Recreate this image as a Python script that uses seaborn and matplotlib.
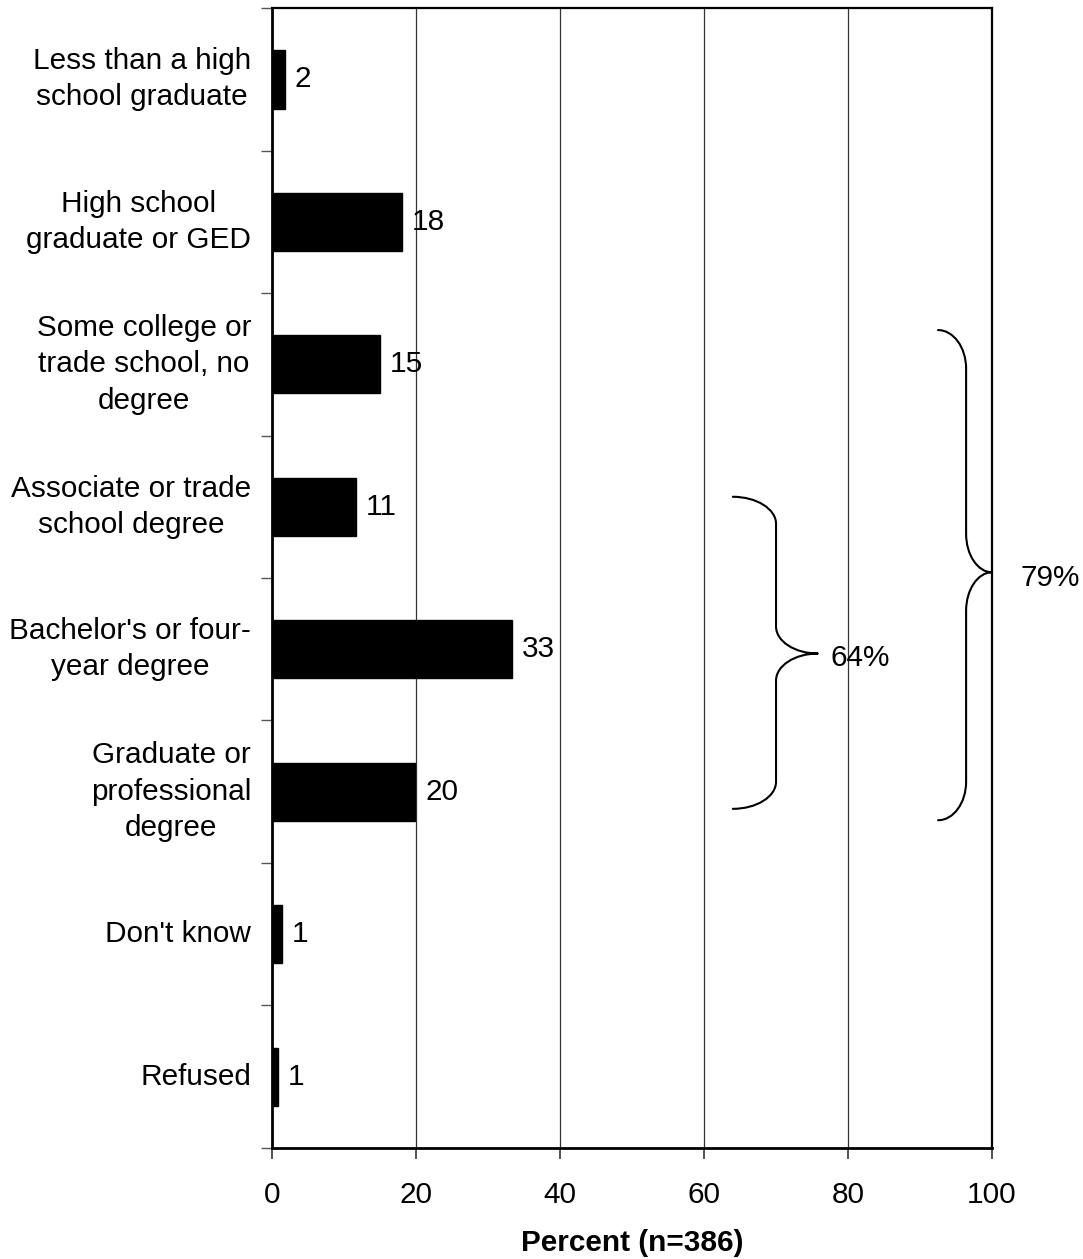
import matplotlib
matplotlib.use("Agg")
import matplotlib.pyplot as plt
import seaborn as sns
import pandas as pd
from matplotlib.path import Path
from matplotlib.patches import PathPatch
from matplotlib.ticker import FixedLocator

categories = [
    "Less than a high\nschool graduate",
    "High school\ngraduate or GED",
    "Some college or\ntrade school, no\ndegree",
    "Associate or trade\nschool degree",
    "Bachelor's or four-\nyear degree",
    "Graduate or\nprofessional\ndegree",
    "Don't know",
    "Refused",
]
values = [1.8, 18.0, 15.0, 11.7, 33.3, 19.9, 1.4, 0.8]
value_labels = ["2", "18", "15", "11", "33", "20", "1", "1"]
x_ticks = [0, 20, 40, 60, 80, 100]
x_label = "Percent (n=386)"
brace_labels = ["64%", "79%"]

sns.set_theme(style="white")
plt.rcParams['font.family'] = ['Liberation Sans', 'DejaVu Sans']
plt.rcParams['text.color'] = 'black'
plt.rcParams['axes.labelcolor'] = 'black'
plt.rcParams['xtick.color'] = 'black'
plt.rcParams['ytick.color'] = 'black'
FS = 21.4

df = pd.DataFrame({"cat": categories, "val": values})

fig = plt.figure(figsize=(10.83, 12.59), dpi=100)
ax = fig.add_axes([0.2512, 0.0882, 0.6648, 0.9054])

sns.barplot(data=df, y="cat", x="val", orient="h", color="black",
            width=0.41, ax=ax, saturation=1, edgecolor="black")

ax.set_xlim(0, 100)
ax.set_ylim(len(categories) - 0.5, -0.5)

# grid
for xv in x_ticks[1:-1]:
    ax.axvline(xv, color="#333333", lw=0.9, zorder=0)

# spines
for s in ["left", "bottom"]:
    ax.spines[s].set_linewidth(2.0)
    ax.spines[s].set_color("black")
for s in ["top", "right"]:
    ax.spines[s].set_linewidth(1.6)
    ax.spines[s].set_color("black")
    ax.spines[s].set_visible(True)

ax.set_xticks(x_ticks)
ax.set_xticklabels([str(t) for t in x_ticks], fontsize=FS, color="black")
ax.tick_params(axis="x", direction="out", length=8, width=1.2, color="#333333", pad=16, bottom=True)
ax.set_yticks(range(len(categories)))
ax.set_yticklabels(categories, fontsize=FS, multialignment="center", linespacing=1.38, color="black")
for t in ax.get_yticklabels():
    t.set_verticalalignment("center")
ax.tick_params(axis="y", which="major", length=0, pad=15)
ax.yaxis.set_minor_locator(FixedLocator([i - 0.5 for i in range(len(categories) + 1)]))
ax.tick_params(axis="y", which="minor", direction="out", length=8, width=1.0, color="#555555", left=True)

ax.set_ylabel("")
ax.set_xlabel(x_label, fontsize=FS, fontweight="bold", labelpad=14, color="black")

for i, (v, lab) in enumerate(zip(values, value_labels)):
    ax.annotate(lab, xy=(v, i), xytext=(7, 0), textcoords="offset points",
                ha="left", va="center", fontsize=FS, color="black")


def brace(ax, x_end, x_mid, x_tip, y_top, y_bot, y_tip, r):
    k = 0.55
    d1 = x_mid - x_end
    d2 = x_tip - x_mid
    verts = [
        (x_end, y_top),
        (x_end + k * d1, y_top), (x_mid, y_top + r - k * r), (x_mid, y_top + r),
        (x_mid, y_tip - r),
        (x_mid, y_tip - r + k * r), (x_tip - k * d2, y_tip), (x_tip, y_tip),
        (x_tip - k * d2, y_tip), (x_mid, y_tip + r - k * r), (x_mid, y_tip + r),
        (x_mid, y_bot - r),
        (x_mid, y_bot - r + k * r), (x_end + k * d1, y_bot), (x_end, y_bot),
    ]
    codes = [Path.MOVETO,
             Path.CURVE4, Path.CURVE4, Path.CURVE4,
             Path.LINETO,
             Path.CURVE4, Path.CURVE4, Path.CURVE4,
             Path.CURVE4, Path.CURVE4, Path.CURVE4,
             Path.LINETO,
             Path.CURVE4, Path.CURVE4, Path.CURVE4]
    p = PathPatch(Path(verts, codes), fill=False, lw=1.5, color="black",
                  clip_on=False, zorder=5, capstyle="round", joinstyle="round")
    ax.add_patch(p)

brace(ax, 64.0, 70.0, 75.8, 2.93, 5.12, 4.03, 0.19)
brace(ax, 92.5, 96.4, 100.0, 1.76, 5.2, 3.46, 0.27)

ax.text(77.6, 4.06, brace_labels[0], fontsize=FS, ha="left", va="center", zorder=6, color="black")
ax.text(103.9, 3.5, brace_labels[1], fontsize=FS, ha="left", va="center", clip_on=False, color="black")

fig.savefig("out.png", dpi=100)
